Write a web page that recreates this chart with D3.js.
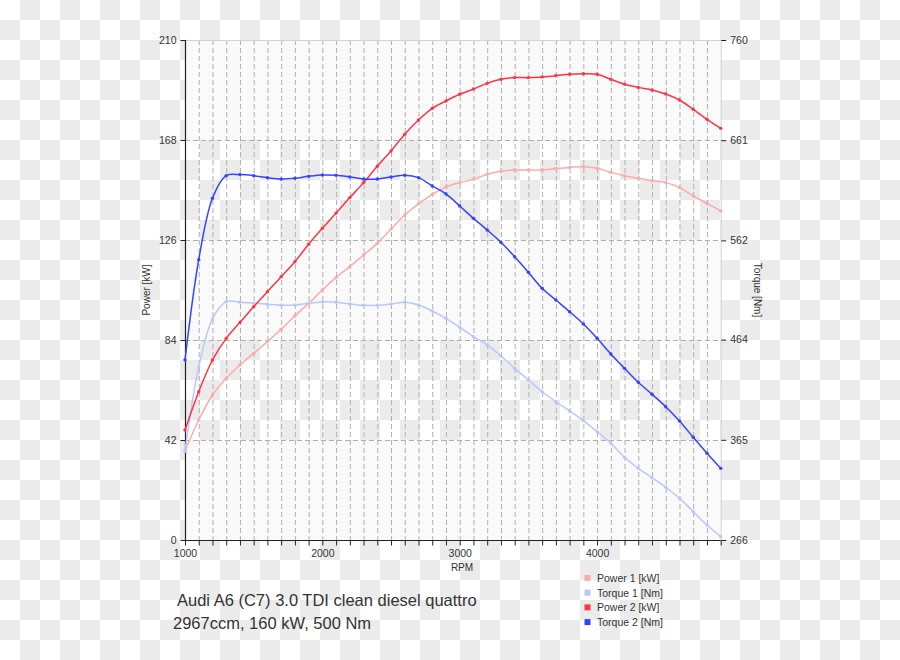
<!DOCTYPE html>
<html><head><meta charset="utf-8">
<script src="https://cdn.jsdelivr.net/npm/d3@7"></script>
<style>
html,body{margin:0;padding:0;background:#fff;}
svg{display:block;font-family:"Liberation Sans",Arial,sans-serif;}
</style></head>
<body>
<svg id="chart" width="900" height="660"></svg>
<script>
// ---- data ----
const rpm = [1000,1100,1200,1300,1400,1500,1600,1700,1800,1900,2000,2100,2200,2300,2400,2500,2600,2700,2800,2900,3000,3100,3200,3300,3400,3500,3600,3700,3800,3900,4000,4100,4200,4300,4400,4500,4600,4700,4800,4900];
const power1 = [37.4,50.4,60.9,67.9,73.5,78.4,83.3,88.5,94.1,99.4,105.0,110.3,114.8,119.7,124.6,130.6,136.5,141.2,145.1,148.3,150.1,151.5,153.6,154.9,155.4,155.4,155.4,156.0,156.5,156.8,156.1,154.4,153.0,151.9,150.9,150.1,148.1,144.5,141.4,138.2];
const torque1 = [354,437,484.4,501.5,501,500,499,497.9,498.2,499.8,501.2,500.9,499.2,497.9,497.9,499.2,500.9,498.2,492.3,485,476.2,466.9,458.7,447.8,435.6,424.1,412.5,402.6,393.5,383.9,373,361.5,347.7,336.8,327.6,318.1,307.2,294,280.8,269.3];
const power2 = [46.2,62.3,75.6,84.7,91.4,98,104.3,110.6,116.9,124.2,130.9,137.3,143.8,150.1,157,163.4,170.4,176.4,181.3,184.4,187.2,189.4,191.8,193.5,194.2,194.2,194.5,195,195.6,195.8,195.6,193.5,191.4,190.1,189,187.3,184.8,180.9,176.7,172.9];
const torque2 = [444,543,603.6,626,627,626,624,622.7,623.4,625.3,626.6,626.3,624.7,622.7,622.7,624.7,626.3,624,615.8,607.9,596,583.8,572.3,560.1,545.9,530.5,514.7,503.1,491.6,479.4,465.3,449.8,435.6,421.8,410,397.7,383.6,367.5,351.7,336.8];
const powerTicks = [0,42,84,126,168,210];
const torqueTicks = [266,365,464,562,661,760];
const rpmLabels = [1000,2000,3000,4000];
const seriesNames = ["Power 1 [kW]","Torque 1 [Nm]","Power 2 [kW]","Torque 2 [Nm]"];
const titleLines = ["Audi A6 (C7) 3.0 TDI clean diesel quattro","2967ccm, 160 kW, 500 Nm"];

// ---- layout ----
const L = 185, R = 720.7, T = 40, B = 540;
const svg = d3.select("#chart");
const defs = svg.append("defs");
const pat = defs.append("pattern").attr("id","checker").attr("patternUnits","userSpaceOnUse")
  .attr("width",40).attr("height",40);
pat.append("rect").attr("width",40).attr("height",40).attr("fill","#ffffff");
pat.append("rect").attr("x",20).attr("y",0).attr("width",20).attr("height",20).attr("fill","#ebebeb");
pat.append("rect").attr("x",0).attr("y",20).attr("width",20).attr("height",20).attr("fill","#ebebeb");
svg.append("rect").attr("width",900).attr("height",660).attr("fill","url(#checker)");

const x = d3.scaleLinear().domain([1000,4900]).range([L,R]);
const yP = d3.scaleLinear().domain([0,210]).range([B,T]);
const yT = d3.scaleLinear().domain([266,760]).range([B,T]);

// bands
[[0,42],[84,126],[168,210]].forEach(b=>{
  svg.append("rect").attr("x",L).attr("width",R-L)
    .attr("y",yP(b[1])).attr("height",yP(b[0])-yP(b[1])).attr("fill","#fafafa");
});

// grid
const g = svg.append("g");
rpm.filter(r=>r>1000 && r<4900).forEach(r=>{
  g.append("line").attr("x1",x(r)+0.5).attr("x2",x(r)+0.5).attr("y1",T).attr("y2",B)
   .attr("stroke","#b0b0b0").attr("stroke-dasharray","5,3");
});
powerTicks.filter(v=>v>0 && v<210).forEach(v=>{
  g.append("line").attr("x1",L).attr("x2",R).attr("y1",Math.round(yP(v))+0.5).attr("y2",Math.round(yP(v))+0.5)
   .attr("stroke","#b0b0b0").attr("stroke-dasharray","5,3");
});
// border top/right
g.append("line").attr("x1",L).attr("x2",R).attr("y1",T+0.5).attr("y2",T+0.5).attr("stroke","#d4d4d4");
g.append("line").attr("x1",R+0.5).attr("x2",R+0.5).attr("y1",T).attr("y2",B).attr("stroke","#d4d4d4");

// axes
const axL = d3.axisLeft(yP).tickValues(powerTicks).tickSize(5).tickPadding(4).tickFormat(d3.format("d"));
const gl = svg.append("g").attr("transform",`translate(${L+0.5},0)`).call(axL);
const axR = d3.axisRight(yT).tickValues(torqueTicks).tickSize(5).tickPadding(4).tickFormat(d3.format("d"));
const gr = svg.append("g").attr("transform",`translate(${R+0.5},0)`).call(axR);
gr.select(".domain").remove();
const axB = d3.axisBottom(x).tickValues(rpm).tickSize(5).tickPadding(4)
  .tickFormat(d=>rpmLabels.includes(d)?d:"");
const gb = svg.append("g").attr("transform",`translate(0,${B+0.5})`).call(axB);
[gl,gr,gb].forEach(a=>{
  a.selectAll("path.domain").attr("stroke","#222").attr("stroke-width",1.2);
  a.selectAll("line").attr("stroke","#222");
  a.selectAll("text").attr("fill","#333").style("font-size","10.5px").style("font-family","Liberation Sans, Arial, sans-serif");
});
gl.select(".domain").attr("d",`M0,${T}V${B}`);
gb.select(".domain").attr("d",`M${L},0H${R}`);

// axis titles
svg.append("text").attr("transform",`translate(150,290) rotate(-90)`).attr("text-anchor","middle")
  .attr("fill","#333").style("font-size","10px").text("Power [kW]");
svg.append("text").attr("transform",`translate(754,290) rotate(90)`).attr("text-anchor","middle")
  .attr("fill","#333").style("font-size","10px").text("Torque [Nm]");
svg.append("text").attr("x",462).attr("y",571).attr("text-anchor","middle")
  .attr("fill","#333").style("font-size","10px").text("RPM");

// series
const colors = ["#ffaaaa","#b8c8ff","#ff3344","#3344ff"];
const series = [
  {vals:power1, y:yP, c:colors[0]},
  {vals:torque1, y:yT, c:colors[1]},
  {vals:power2, y:yP, c:colors[2]},
  {vals:torque2, y:yT, c:colors[3]}
];
series.forEach(s=>{
  const pts = rpm.map((r,i)=>[x(r), s.y(s.vals[i])]);
  const line = d3.line().curve(d3.curveCatmullRom.alpha(0.5));
  svg.append("path").attr("d",line(pts)).attr("fill","none").attr("stroke",s.c).attr("stroke-width",1.5);
  svg.append("g").selectAll("circle").data(pts).join("circle")
    .attr("cx",d=>d[0]).attr("cy",d=>d[1]).attr("r",1.7).attr("fill",s.c);
});

// legend
seriesNames.forEach((n,i)=>{
  const yy = 578 + i*14.7;
  svg.append("rect").attr("x",584.5).attr("y",yy-3).attr("width",6).attr("height",6).attr("fill",colors[i]);
  svg.append("text").attr("x",597).attr("y",yy+4).attr("fill","#333").style("font-size","10.5px").text(n);
});

// title
svg.append("text").attr("x",177).attr("y",606).attr("fill","#333").style("font-size","16.5px").text(titleLines[0]);
svg.append("text").attr("x",173).attr("y",629).attr("fill","#333").style("font-size","16.5px").text(titleLines[1]);
</script>
</body></html>
